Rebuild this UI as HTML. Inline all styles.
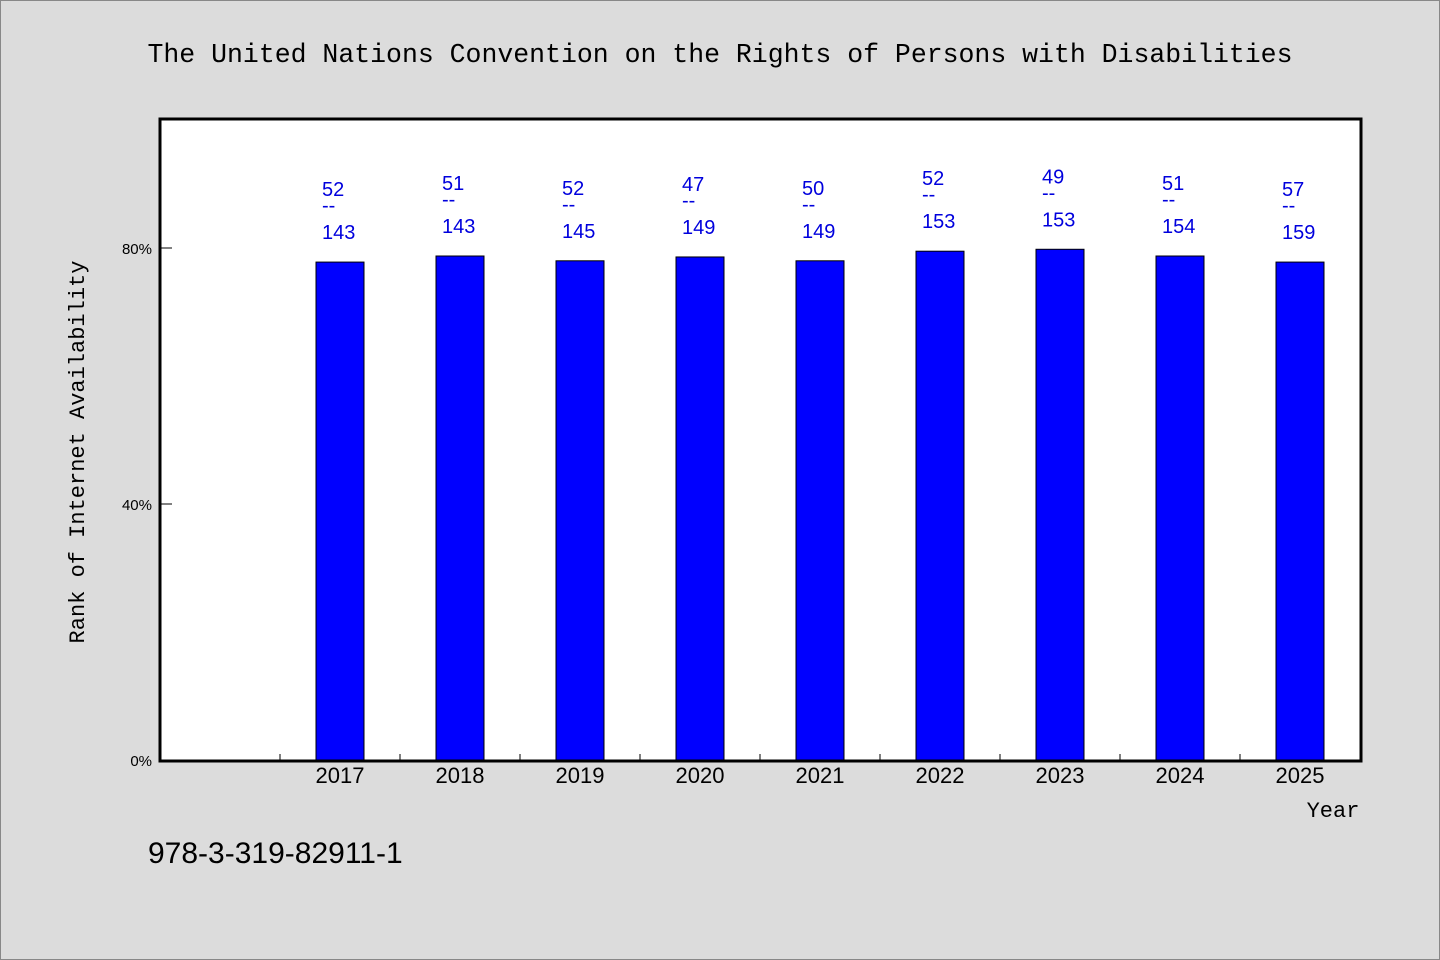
<!DOCTYPE html>
<html><head><meta charset="utf-8"><style>
body{margin:0;background:#dcdcdc}
svg{display:block}
text{font-family:"Liberation Mono","WenQuanYi Zen Hei",monospace}
.lbl{font-family:"Liberation Sans",sans-serif;font-size:20px;fill:#0000dd}
</style></head><body>
<svg width="1440" height="960">
<rect x="0.5" y="0.5" width="1439" height="959" fill="#dcdcdc" stroke="#888"/>
<text x="720" y="62" text-anchor="middle" font-size="26.5">The United Nations Convention on the Rights of Persons with Disabilities</text>
<rect x="160" y="119" width="1201" height="642" fill="#fff"/>
<g id="bars"></g>
<g id="axes"></g>
<rect x="160" y="119" width="1201" height="642" fill="none" stroke="#000" stroke-width="3"/>
<text x="1333" y="817" text-anchor="middle" font-size="22">Year</text>
<text transform="translate(84,452) rotate(-90)" text-anchor="middle" font-size="22">Rank of Internet Availability</text>
<text x="148" y="863" font-size="30" font-family="Liberation Sans, sans-serif" style="font-family:'Liberation Sans',sans-serif">978-3-319-82911-1</text>
</svg>
<script>
const categories=["2017","2018","2019","2020","2021","2022","2023","2024","2025"];
const values=[77.8,78.75,78.0,78.6,78.0,79.5,79.8,78.75,77.8];
const topLabels=["52","51","52","47","50","52","49","51","57"];
const bottomLabels=["143","143","145","149","149","153","153","154","159"];
const yTicks=[0,40,80];
const NS="http://www.w3.org/2000/svg";
const x0=160,band=120,yBase=760,pxPer=6.4,bw=48;
const xc=i=>x0+band*(i+1)+band/2;
const y=v=>yBase-v*pxPer;
function mk(tag,attrs,parent){const e=document.createElementNS(NS,tag);for(const k in attrs)e.setAttribute(k,attrs[k]);parent.appendChild(e);return e;}
const bars=document.getElementById('bars'),axes=document.getElementById('axes');
categories.forEach((c,i)=>{
  const cx=xc(i),top=y(values[i]);
  const r=mk('rect',{x:cx-bw/2,y:top,width:bw,height:yBase-top,fill:'#0000ff',stroke:'#000','stroke-width':1},bars);
  
  
  const t1=mk('text',{x:cx-18,y:top-66,class:'lbl'},bars);t1.textContent=topLabels[i];
  
  
  const t2=mk('text',{x:cx-18,y:top-50,class:'lbl'},bars);t2.textContent="--";
  
  
  const t3=mk('text',{x:cx-18,y:top-23,class:'lbl'},bars);t3.textContent=bottomLabels[i];
  
  
  const xl=mk('text',{x:cx,y:783,'text-anchor':'middle','font-size':'22',style:"font-family:'Liberation Sans',sans-serif"},axes);xl.textContent=c;
  
  
});
for(let i=1;i<=categories.length;i++){
  const tx=x0+band*i;
  const tk=mk('line',{x1:tx,x2:tx,y1:760,y2:754,stroke:'#000'},axes);
  
  
}
yTicks.forEach(v=>{
  const yy=y(v);
  const tk=mk('line',{x1:160,x2:172,y1:yy,y2:yy,stroke:'#000'},axes);
  
  
  const tl=mk('text',{x:152,y:yy+6,'text-anchor':'end','font-size':'15',style:"font-family:'Liberation Sans',sans-serif"},axes);tl.textContent=v+'%';
  
  
});
</script>
</body></html>
